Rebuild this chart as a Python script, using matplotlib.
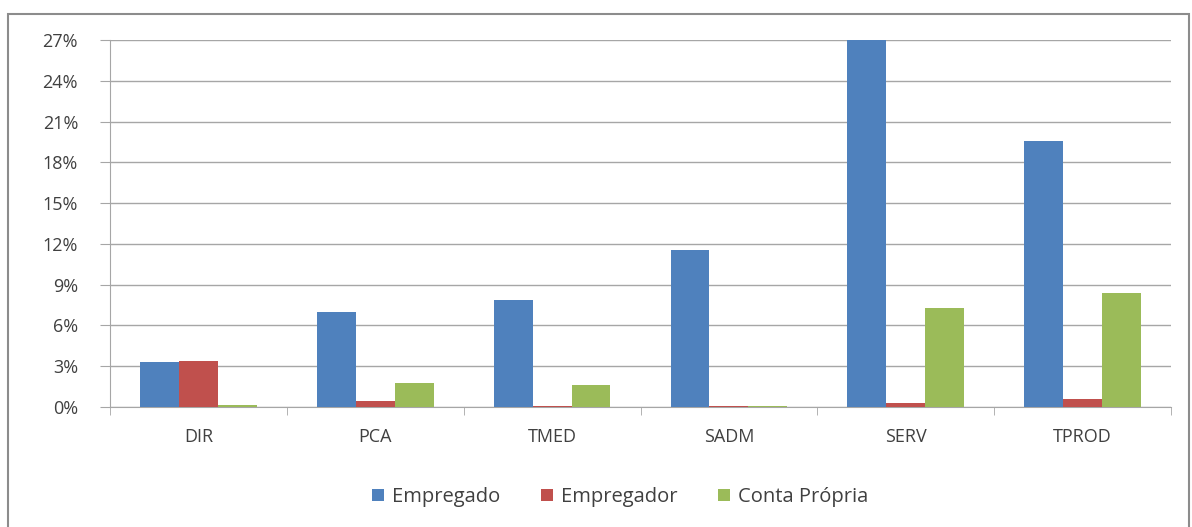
import numpy as np
import matplotlib
matplotlib.use('Agg')
from matplotlib import pyplot as plt
from matplotlib.patches import Rectangle
from matplotlib.ticker import FuncFormatter

categories = ['DIR', 'PCA', 'TMED', 'SADM', 'SERV', 'TPROD']
empregado = [3.3, 7.0, 7.85, 11.55, 27.0, 19.6]
empregador = [3.4, 0.45, 0.1, 0.1, 0.3, 0.6]
conta_propria = [0.15, 1.75, 1.6, 0.1, 7.3, 8.4]
series_names = ['Empregado', 'Empregador', 'Conta Própria']
colors = ['#4F81BD', '#C0504D', '#9BBB59']

plt.rcParams['font.family'] = ['Open Sans', 'DejaVu Sans']
text_color = '#404040'

fig = plt.figure(figsize=(11.92, 5.27), dpi=100)
ax = fig.add_axes([0.0923, 0.2277, 0.8901, 0.6963])

x = np.arange(len(categories))
w = 0.22
for i, (vals, name) in enumerate(zip([empregado, empregador, conta_propria], series_names)):
    ax.bar(x + (i - 1) * w, vals, w, color=colors[i], label=name, zorder=3)

ax.set_xlim(-0.5, len(categories) - 0.5)
ax.set_ylim(0, 27)
ax.set_yticks(np.arange(0, 28, 3))
ax.yaxis.set_major_formatter(FuncFormatter(lambda v, p: '%d%%' % v))
ax.set_xticks(x)
ax.set_xticklabels(categories)
ax.set_xticks(np.arange(-0.5, len(categories)), minor=True)

ax.grid(axis='y', color='#a6a6a6', linewidth=1, zorder=0)
for s in ['top', 'right']:
    ax.spines[s].set_visible(False)
ax.spines['left'].set_color('#a6a6a6')
ax.spines['bottom'].set_color('#a6a6a6')
ax.tick_params(axis='y', length=7, color='#a6a6a6', labelsize=13, labelcolor=text_color, pad=16)
ax.tick_params(axis='x', which='major', length=0, labelsize=13, labelcolor=text_color, pad=15)
ax.tick_params(axis='x', which='minor', length=6, color='#a6a6a6')

ax.legend(loc='center', bbox_to_anchor=(620 / 1192, 1 - 497 / 527), bbox_transform=fig.transFigure,
          ncol=3, frameon=False, fontsize=14.5, handlelength=0.6, handleheight=0.6,
          handletextpad=0.4, columnspacing=2.0, labelcolor=text_color)

fig.patches.append(Rectangle((8 / 1192, -0.01), 1181 / 1192, 1 - 14 / 527 + 0.01,
                             transform=fig.transFigure, fill=False, edgecolor='#8c8c8c',
                             linewidth=1.5))

fig.savefig('out.png', dpi=100)
